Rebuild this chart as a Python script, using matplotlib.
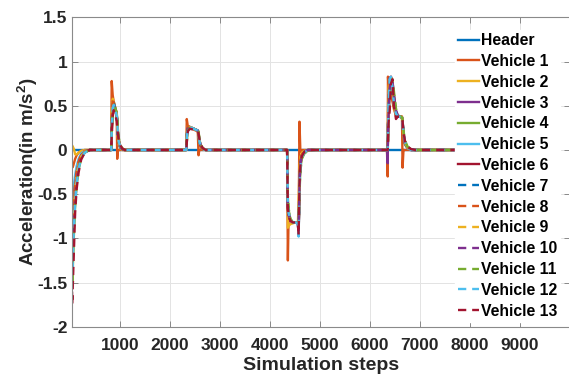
import numpy as np
import matplotlib.pyplot as plt

plt.rcParams['font.family'] = ['Liberation Sans', 'DejaVu Sans']
plt.rcParams['font.weight'] = 'bold'
plt.rcParams['mathtext.fontset'] = 'custom'
plt.rcParams['mathtext.bf'] = 'Liberation Sans:bold'
plt.rcParams['mathtext.rm'] = 'Liberation Sans:bold'

names = ['Header'] + ['Vehicle %d' % i for i in range(1, 14)]
colors = ['#0072BD', '#D95319', '#EDB120', '#7E2F8E', '#77AC30', '#4DBEEE', '#A2142F']

xticks = [1000, 2000, 3000, 4000, 5000, 6000, 7000, 8000, 9000]
yticks = [-2, -1.5, -1, -0.5, 0, 0.5, 1, 1.5]
ytick_labels = ['-2', '-1.5', '-1', '-0.5', '0', '0.5', '1', '1.5']

# start-up transient, one row per series (Header, Vehicle 1..13)
start_steps = [0, 52, 70, 90, 110, 140, 180, 230, 300, 400]
start_acc = [
    [0, 0, 0, 0, 0, 0, 0, 0, 0, 0],
    [0, -0.20, -0.18, -0.14, -0.10, -0.06, -0.03, -0.01, 0, 0],
    [0, 0.05, 0.03, 0.00, -0.05, -0.05, -0.03, -0.01, 0, 0],
    [0, -1.10, -0.85, -0.62, -0.45, -0.28, -0.15, -0.07, -0.02, 0],
    [0, -1.50, -1.10, -0.80, -0.58, -0.36, -0.19, -0.08, -0.02, 0],
    [0, -0.60, -0.48, -0.37, -0.28, -0.18, -0.10, -0.04, -0.01, 0],
    [0, -0.90, -0.72, -0.55, -0.40, -0.26, -0.14, -0.06, -0.02, 0],
    [0, -1.20, -0.95, -0.70, -0.50, -0.32, -0.17, -0.08, -0.02, 0],
    [0, -0.80, -0.65, -0.50, -0.37, -0.24, -0.13, -0.05, -0.01, 0],
    [0, -1.00, -0.80, -0.60, -0.44, -0.28, -0.15, -0.07, -0.02, 0],
    [0, -1.30, -1.02, -0.76, -0.55, -0.35, -0.19, -0.09, -0.03, 0],
    [0, -1.55, -1.20, -0.88, -0.62, -0.40, -0.22, -0.10, -0.03, 0],
    [0, -1.40, -1.10, -0.82, -0.60, -0.38, -0.21, -0.10, -0.03, 0],
    [0, -1.75, -1.40, -1.05, -0.70, -0.44, -0.25, -0.11, -0.03, 0],
]

# first acceleration
a_steps = [830, 840, 860, 880, 910, 940, 950, 960, 980, 1010, 1050, 1100]
a_acc = [
    [0, 0, 0, 0, 0, 0, 0, 0, 0, 0, 0, 0],
    [0, 0.78, 0.62, 0.55, 0.48, 0.42, -0.10, -0.02, 0, 0, 0, 0],
    [0, 0.45, 0.58, 0.55, 0.48, 0.40, 0.30, 0.15, 0.06, 0.02, 0, 0],
    [0, 0.30, 0.50, 0.53, 0.47, 0.40, 0.32, 0.20, 0.09, 0.03, 0.01, 0],
    [0, 0.20, 0.42, 0.50, 0.48, 0.42, 0.36, 0.26, 0.12, 0.05, 0.01, 0],
    [0, 0.28, 0.48, 0.52, 0.46, 0.39, 0.32, 0.20, 0.10, 0.04, 0.01, 0],
    [0, 0.24, 0.45, 0.50, 0.45, 0.38, 0.32, 0.22, 0.11, 0.05, 0.01, 0],
    [0, 0.30, 0.52, 0.54, 0.46, 0.38, 0.30, 0.18, 0.08, 0.03, 0.01, 0],
    [0, 0.35, 0.55, 0.54, 0.47, 0.39, 0.30, 0.17, 0.07, 0.02, 0, 0],
    [0, 0.26, 0.47, 0.51, 0.46, 0.40, 0.33, 0.22, 0.10, 0.04, 0.01, 0],
    [0, 0.22, 0.44, 0.50, 0.46, 0.40, 0.34, 0.23, 0.11, 0.04, 0.01, 0],
    [0, 0.18, 0.40, 0.48, 0.47, 0.42, 0.38, 0.28, 0.14, 0.06, 0.02, 0],
    [0, 0.25, 0.46, 0.51, 0.46, 0.39, 0.33, 0.22, 0.10, 0.04, 0.01, 0],
    [0, 0.15, 0.38, 0.45, 0.40, 0.33, 0.26, 0.20, 0.12, 0.05, 0.02, 0],
]

# second acceleration
b_steps = [2330, 2340, 2360, 2400, 2480, 2560, 2575, 2590, 2620, 2660, 2720]
b_acc = [
    [0, 0, 0, 0, 0, 0, 0, 0, 0, 0, 0],
    [0, 0.35, 0.27, 0.25, 0.23, 0.21, -0.06, 0, 0, 0, 0],
    [0, 0.20, 0.27, 0.26, 0.24, 0.22, 0.16, 0.08, 0.03, 0.01, 0],
    [0, 0.15, 0.26, 0.26, 0.24, 0.22, 0.18, 0.10, 0.04, 0.01, 0],
    [0, 0.10, 0.23, 0.25, 0.24, 0.22, 0.20, 0.13, 0.05, 0.02, 0],
    [0, 0.16, 0.26, 0.26, 0.24, 0.22, 0.18, 0.10, 0.04, 0.01, 0],
    [0, 0.13, 0.25, 0.26, 0.24, 0.22, 0.19, 0.11, 0.05, 0.01, 0],
    [0, 0.17, 0.27, 0.26, 0.24, 0.22, 0.17, 0.09, 0.03, 0.01, 0],
    [0, 0.19, 0.27, 0.26, 0.24, 0.21, 0.16, 0.08, 0.03, 0.01, 0],
    [0, 0.14, 0.25, 0.26, 0.24, 0.22, 0.19, 0.11, 0.04, 0.01, 0],
    [0, 0.12, 0.24, 0.25, 0.24, 0.22, 0.19, 0.12, 0.05, 0.02, 0],
    [0, 0.09, 0.22, 0.25, 0.24, 0.22, 0.21, 0.14, 0.06, 0.02, 0],
    [0, 0.13, 0.25, 0.26, 0.24, 0.22, 0.19, 0.11, 0.04, 0.01, 0],
    [0, 0.08, 0.21, 0.24, 0.23, 0.21, 0.19, 0.13, 0.06, 0.02, 0],
]

# braking
c_steps = [4345, 4360, 4375, 4410, 4460, 4520, 4560, 4575, 4592, 4610, 4640, 4690, 4760, 4850]
c_acc = [
    [0, 0, 0, 0, 0, 0, 0, 0, 0, 0, 0, 0, 0, 0],
    [0, -1.25, -0.75, -0.80, -0.82, -0.82, -0.82, -0.84, 0.32, -0.02, 0, 0, 0, 0],
    [0, -0.88, -0.86, -0.84, -0.83, -0.82, -0.82, -0.60, -0.20, -0.08, -0.03, -0.01, 0, 0],
    [0, -0.70, -0.74, -0.80, -0.82, -0.82, -0.83, -0.97, -0.35, -0.15, -0.06, -0.02, 0, 0],
    [0, -0.55, -0.68, -0.78, -0.82, -0.82, -0.83, -0.90, -0.45, -0.20, -0.09, -0.03, -0.01, 0],
    [0, -0.62, -0.72, -0.79, -0.82, -0.82, -0.83, -0.93, -0.38, -0.16, -0.07, -0.02, 0, 0],
    [0, -0.66, -0.73, -0.80, -0.82, -0.82, -0.83, -0.96, -0.36, -0.15, -0.06, -0.02, 0, 0],
    [0, -0.60, -0.70, -0.79, -0.82, -0.82, -0.83, -0.92, -0.40, -0.17, -0.07, -0.02, 0, 0],
    [0, -0.72, -0.75, -0.80, -0.82, -0.82, -0.82, -0.88, -0.30, -0.12, -0.05, -0.01, 0, 0],
    [0, -0.58, -0.70, -0.79, -0.82, -0.82, -0.83, -0.94, -0.42, -0.18, -0.08, -0.03, 0, 0],
    [0, -0.64, -0.72, -0.80, -0.82, -0.82, -0.83, -0.97, -0.38, -0.16, -0.07, -0.02, 0, 0],
    [0, -0.52, -0.66, -0.78, -0.82, -0.82, -0.83, -0.88, -0.50, -0.24, -0.10, -0.04, -0.01, 0],
    [0, -0.60, -0.71, -0.79, -0.82, -0.82, -0.84, -0.98, -0.45, -0.20, -0.08, -0.03, 0, 0],
    [0, -0.65, -0.74, -0.80, -0.82, -0.82, -0.83, -0.96, -0.40, -0.18, -0.07, -0.02, 0, 0],
]

# last acceleration
d_steps = [6340, 6355, 6360, 6370, 6395, 6420, 6450, 6480, 6520, 6560, 6640, 6652, 6670, 6700, 6750, 6820, 6900]
d_acc = [
    [0] * 17,
    [0, -0.30, 0.83, 0.72, 0.66, 0.60, 0.55, 0.46, 0.39, 0.38, 0.38, -0.20, 0, 0, 0, 0, 0],
    [0, 0.10, 0.45, 0.70, 0.80, 0.72, 0.60, 0.48, 0.40, 0.38, 0.37, 0.30, 0.14, 0.06, 0.02, 0, 0],
    [0, -0.15, 0.20, 0.55, 0.82, 0.80, 0.70, 0.55, 0.40, 0.38, 0.37, 0.31, 0.16, 0.07, 0.02, 0, 0],
    [0, 0, 0.10, 0.35, 0.68, 0.82, 0.78, 0.62, 0.44, 0.38, 0.37, 0.33, 0.20, 0.09, 0.03, 0.01, 0],
    [0, 0, 0.25, 0.50, 0.80, 0.82, 0.72, 0.55, 0.42, 0.38, 0.37, 0.32, 0.17, 0.07, 0.02, 0, 0],
    [0, 0, 0.15, 0.40, 0.72, 0.83, 0.76, 0.60, 0.43, 0.38, 0.37, 0.32, 0.18, 0.08, 0.03, 0, 0],
    [0, 0, 0.30, 0.55, 0.78, 0.70, 0.62, 0.50, 0.40, 0.38, 0.37, 0.31, 0.16, 0.07, 0.02, 0, 0],
    [0, 0, 0.35, 0.62, 0.80, 0.75, 0.60, 0.47, 0.39, 0.38, 0.37, 0.30, 0.15, 0.06, 0.02, 0, 0],
    [0, 0, 0.20, 0.45, 0.75, 0.82, 0.74, 0.58, 0.42, 0.38, 0.37, 0.32, 0.18, 0.08, 0.03, 0, 0],
    [0, 0, 0.12, 0.38, 0.70, 0.80, 0.78, 0.62, 0.45, 0.39, 0.37, 0.33, 0.19, 0.09, 0.03, 0.01, 0],
    [0, 0, 0.08, 0.30, 0.62, 0.78, 0.80, 0.66, 0.47, 0.39, 0.37, 0.34, 0.22, 0.11, 0.04, 0.01, 0],
    [0, 0, 0.18, 0.48, 0.80, 0.83, 0.70, 0.52, 0.41, 0.38, 0.37, 0.33, 0.20, 0.09, 0.03, 0, 0],
    [0, 0, 0.05, 0.30, 0.45, 0.75, 0.80, 0.50, 0.35, 0.38, 0.37, 0.33, 0.20, 0.10, 0.04, 0.01, 0],
]

# lines run out just left of the legend
end_step = 7700

events = [(start_steps, start_acc), (a_steps, a_acc), (b_steps, b_acc),
          (c_steps, c_acc), (d_steps, d_acc)]

fig = plt.figure(figsize=(5.69, 3.79), dpi=100)
ax = fig.add_axes([0.127, 0.138, 0.875, 0.816])

for i, name in enumerate(names):
    x = []
    y = []
    for steps, acc in events:
        x += steps
        y += acc[i]
    x.append(end_step)
    y.append(0)
    ls = '-' if i < 7 else (0, (3.5, 2.5))
    ax.plot(x, y, color=colors[i % 7], lw=1.7, linestyle=ls, label=name)

ax.set_xlim(52, 10000)
ax.set_ylim(-2, 1.5)
ax.set_xticks(xticks)
ax.set_yticks(yticks)
ax.set_yticklabels(ytick_labels)
ax.grid(True, color='#e3e3e3', lw=0.7)
ax.set_axisbelow(True)
ax.tick_params(direction='in', length=4, width=0.6, colors='#7a7a7a',
               labelcolor='#262626', labelsize=12.5, top=True, right=True)
ax.tick_params(axis='x', pad=8)
for lbl in ax.get_xticklabels() + ax.get_yticklabels():
    lbl.set_fontweight('bold')
for s in ax.spines.values():
    s.set_color('#8a8a8a')
    s.set_linewidth(0.8)

ax.set_xlabel('Simulation steps', fontsize=14, fontweight='bold', color='#262626', labelpad=3)
ax.set_ylabel(r'Acceleration(in m/s$^\mathbf{2}$)', fontsize=13.5, fontweight='bold',
              color='#262626', labelpad=-2)

leg = ax.legend(loc='upper left', bbox_to_anchor=(455 / 569, 1 - 30 / 379),
                bbox_transform=fig.transFigure, fontsize=11.3, frameon=True,
                fancybox=False, edgecolor='white', facecolor='white', framealpha=1,
                handlelength=1.3, handletextpad=0.15, labelspacing=0.37,
                borderpad=0.2, borderaxespad=0)
for t in leg.get_texts():
    t.set_fontweight('bold')

fig.savefig('out.png', dpi=100)
